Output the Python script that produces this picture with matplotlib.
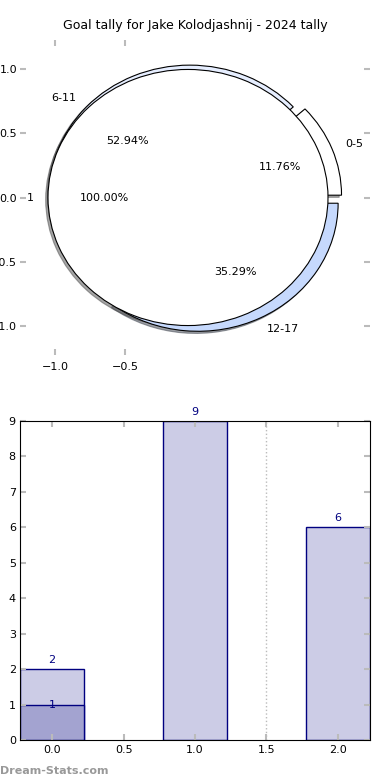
import numpy as np
import matplotlib
matplotlib.use('Agg')
import matplotlib.pyplot as plt

# data
ring_labels = ['0-5', '6-11', '12-17']
ring_values = [2, 9, 6]
ring_colors = ['#ffffff', '#e6eeff', '#c6d9fd']
inner_labels = ['1']
inner_values = [1]

bar_x = [0, 1, 2]
bar_totals = [2, 9, 6]
sub_x = [0]
sub_totals = [1]

player = 'Jake Kolodjashnij'
season = '2024'

fig = plt.figure(figsize=(3.9, 7.8), dpi=100)

############################ PIE ############################
shadow_props = {'ox': -0.012, 'oy': -0.012}
ax = fig.add_axes([20/390, 1 - 355/780, 350/390, 315/780])
ax.pie(ring_values, explode=[0.05]*3, labels=ring_labels, colors=ring_colors,
       autopct='%1.2f%%', shadow=shadow_props, startangle=0,
       wedgeprops={'edgecolor': 'black', 'linewidth': 0.8},
       textprops={'fontsize': 8})
ax.pie(inner_values, explode=[0.05], labels=inner_labels, colors=['white'],
       autopct='%1.2f%%', shadow=shadow_props, startangle=0,
       wedgeprops={'edgecolor': 'black', 'linewidth': 0.8},
       textprops={'fontsize': 8})
ax.set_aspect('auto')
ax.set_frame_on(False)
ax.set_xlim(-1.25, 1.25)
ax.set_ylim(-1.23, 1.23)
ax.set_xticks([-1.0, -0.5])
ax.set_yticks([-1.0, -0.5, 0.0, 0.5, 1.0])
ax.tick_params(direction='in', color='#bbbbbb', length=4, width=1.5,
               top=True, right=True, labelsize=8)
ax.tick_params(axis='x', pad=5)
ax.tick_params(axis='y', pad=2)
ax.set_title('Goal tally for ' + player + ' - ' + season + ' tally', fontsize=9, pad=8)

############################ BARS ############################
ax2 = fig.add_axes([20/390, 1 - 740/780, 350/390, 319/780])
ax2.bar(bar_x, bar_totals, width=0.45, color='#ccccE6', edgecolor='#000080', linewidth=1)
ax2.bar(sub_x, sub_totals, width=0.45, color='#a3a3d0', edgecolor='#000080', linewidth=1)
for x, v in zip(bar_x, bar_totals):
    ax2.text(x, v + 0.12, str(v), ha='center', va='bottom', color='#000080', fontsize=8)
for x, v in zip(sub_x, sub_totals):
    ax2.text(x, v, str(v), ha='center', va='center', color='#000080', fontsize=8)
ax2.axvline(1.5, color='#bbbbbb', linestyle=':', linewidth=1)
ax2.set_xlim(-0.225, 2.225)
ax2.set_ylim(0, 9)
ax2.set_xticks([0.0, 0.5, 1.0, 1.5, 2.0])
ax2.set_yticks(range(10))
ax2.tick_params(direction='in', color='#bbbbbb', length=4, width=1.5,
                top=True, right=True, labelsize=8)
ax2.tick_params(axis='y', pad=3)

fig.text(0.0, 1 - 771/780, 'Dream-Stats.com', color='#999999', fontsize=8,
         fontweight='bold', va='center', ha='left')

fig.savefig('out.png', dpi=100)
